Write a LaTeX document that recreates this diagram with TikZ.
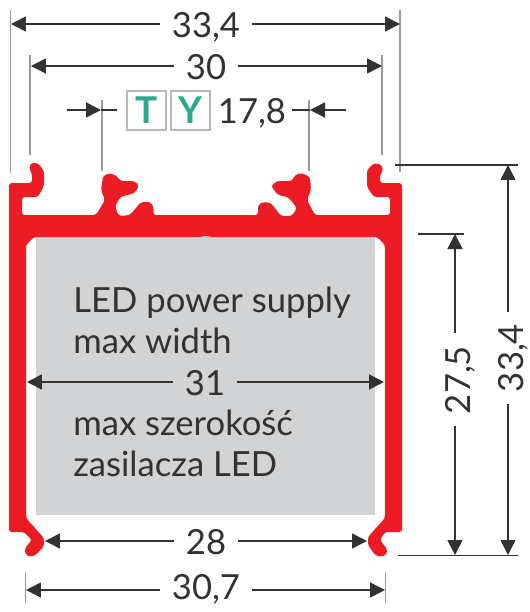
\documentclass[tikz,border=0pt]{standalone}
\usepackage{xcolor}
\usepackage{fontspec}
\setmainfont{Lato}
\usepackage{tikz}
\usetikzlibrary{arrows.meta}

\definecolor{profilered}{HTML}{ED1C24}
\definecolor{fillgrey}{HTML}{D1D3D4}
\definecolor{inkgrey}{HTML}{333132}
\definecolor{extgrey}{HTML}{9A9A9A}
\definecolor{tealmark}{HTML}{2BA98C}

\tikzset{
  dimline/.style={draw=inkgrey, line width=0.03cm, -{Triangle[length=0.3cm,width=0.3cm]}, shorten >=0pt},
  tickline/.style={draw=inkgrey, line width=0.03cm},
  extline/.style={draw=extgrey, line width=0.03cm},
  dimlabel/.style={text=inkgrey, font=\fontsize{19.7}{22}\selectfont, inner xsep=0.24cm, inner ysep=0cm, text height=0.5cm, text depth=0cm},
  notelabel/.style={text=inkgrey, font=\fontsize{19.7}{22}\selectfont, inner sep=0pt, anchor=base west},
  markbox/.style={draw=extgrey!70, fill=white, line width=0.03cm, text=tealmark, font=\fontsize{21}{23}\selectfont\bfseries, minimum size=0.78cm, inner sep=0pt}
}

\begin{document}
\begin{tikzpicture}[x=0.02cm, y=-0.02cm]
    \useasboundingbox (0, 0) rectangle (529, 612);

    % opening and profile
    \fill [fillgrey] (36, 237) rectangle (375, 515);
    \fill [profilered, rounded corners=1.6pt]
        (9, 183) -- (32, 183) -- (32, 174) -- (29, 168) -- (31, 163) -- (38, 163) -- (44, 171) -- (44, 186) -- (38, 197) -- (22, 197) -- (22, 215)
        -- (96, 215) -- (105, 200) -- (101, 190) -- (103, 176) -- (110, 173) -- (117, 176) -- (120, 181) -- (134, 181) -- (139, 185) -- (135, 193) -- (124, 196) -- (120, 197) -- (115, 207) -- (119, 216) -- (130, 215)
        -- (141, 202) -- (151, 202) -- (154, 209) -- (153, 215)
        -- (258, 215) -- (258, 205) -- (263, 202) -- (271, 203) -- (281, 216) -- (292, 216) -- (297, 208) -- (288, 197) -- (278, 195) -- (271, 186) -- (277, 181) -- (292, 181) -- (295, 175) -- (302, 173) -- (310, 177) -- (311, 190) -- (307, 200) -- (315, 215)
        -- (390, 215) -- (390, 197) -- (374, 197) -- (367, 187) -- (367, 170) -- (374, 163) -- (382, 165) -- (383, 171) -- (380, 175) -- (380, 183) -- (402, 183)
        -- (402, 532) -- (385, 532) -- (380, 540) -- (387, 549) -- (387, 554) -- (381, 557) -- (375, 555) -- (368, 545) -- (368, 537) -- (385, 518)
        -- (385, 245) -- (377, 237) -- (209, 237) -- (206, 235) -- (203, 237) -- (34, 237) -- (26, 245)
        -- (26, 518) -- (44, 538) -- (44, 546) -- (36, 555) -- (30, 557) -- (25, 554) -- (25, 548) -- (32, 540) -- (24, 532) -- (9, 532) -- cycle;

    % points of the dimension lines
    \coordinate (w334l) at (11, 24);
    \coordinate (w334r) at (400, 24);
    \coordinate (w30l) at (31, 66);
    \coordinate (w30r) at (382, 66);
    \coordinate (w178a) at (67, 110);
    \coordinate (w178b) at (101, 110);
    \coordinate (w178c) at (117, 110);
    \coordinate (w178d) at (292, 110);
    \coordinate (w178e) at (310, 110);
    \coordinate (w178f) at (346, 110);
    \coordinate (w31l) at (27, 382);
    \coordinate (w31r) at (384, 382);
    \coordinate (w28l) at (45, 541);
    \coordinate (w28r) at (367, 541);
    \coordinate (w307l) at (26, 590);
    \coordinate (w307r) at (385, 590);
    \coordinate (h334t) at (508, 165);
    \coordinate (h334b) at (508, 555);
    \coordinate (h334u) at (508, 312);
    \coordinate (h334d) at (508, 404);
    \coordinate (h275t) at (455, 234);
    \coordinate (h275b) at (455, 555);
    \coordinate (h275u) at (455, 333);
    \coordinate (h275d) at (455, 426);

    % extension lines
    \coordinate (ext1a) at (10.5, 10);
    \coordinate (ext1b) at (10.5, 173);
    \coordinate (ext2a) at (400, 10);
    \coordinate (ext2b) at (400, 172);
    \coordinate (ext3a) at (30, 55);
    \coordinate (ext3b) at (30, 155);
    \coordinate (ext4a) at (382, 55);
    \coordinate (ext4b) at (382, 155);
    \coordinate (ext5a) at (102, 100);
    \coordinate (ext5b) at (102, 171);
    \coordinate (ext6a) at (309, 100);
    \coordinate (ext6b) at (309, 171);
    \coordinate (ext7a) at (25.5, 572);
    \coordinate (ext7b) at (25.5, 603);
    \coordinate (ext8a) at (385.5, 572);
    \coordinate (ext8b) at (385.5, 603);
    \coordinate (tick1a) at (395, 165);
    \coordinate (tick1b) at (518, 165);
    \coordinate (tick2a) at (418, 234);
    \coordinate (tick2b) at (464, 234);
    \coordinate (tick3a) at (398, 555.5);
    \coordinate (tick3b) at (518, 555.5);
    \draw [extline] (ext1a) -- (ext1b);
    \draw [extline] (ext2a) -- (ext2b);
    \draw [extline] (ext3a) -- (ext3b);
    \draw [extline] (ext4a) -- (ext4b);
    \draw [extline] (ext5a) -- (ext5b);
    \draw [extline] (ext6a) -- (ext6b);
    \draw [extline] (ext7a) -- (ext7b);
    \draw [extline] (ext8a) -- (ext8b);
    \draw [tickline] (tick1a) -- (tick1b);
    \draw [tickline] (tick2a) -- (tick2b);
    \draw [tickline] (tick3a) -- (tick3b);

    % dimension labels
    \node (w334) at (206, 25) [dimlabel] {33,4};
    \node (w30) at (206, 67) [dimlabel] {30};
    \node (w178) at (252, 111) [dimlabel, inner xsep=0pt] {17,8};
    \node (w31) at (205, 383) [dimlabel] {31};
    \node (w28) at (206, 542) [dimlabel] {28};
    \node (w307) at (206, 587) [dimlabel] {30,7};
    \node (h334) at (511, 358) [dimlabel, rotate=90] {33,4};
    \node (h275) at (458, 380) [dimlabel, rotate=90] {27,5};
    \node (tbox) at (146.5, 110.5) [markbox] {T};
    \node (ybox) at (190.5, 110.5) [markbox] {Y};

    \draw [dimline] (w334.west |- w334l) -- (w334l);
    \draw [dimline] (w334.east |- w334r) -- (w334r);
    \draw [dimline] (w30.west |- w30l) -- (w30l);
    \draw [dimline] (w30.east |- w30r) -- (w30r);
    \draw [dimline] (w31.west |- w31l) -- (w31l);
    \draw [dimline] (w31.east |- w31r) -- (w31r);
    \draw [dimline] (w28.west |- w28l) -- (w28l);
    \draw [dimline] (w28.east |- w28r) -- (w28r);
    \draw [dimline] (w307.west |- w307l) -- (w307l);
    \draw [dimline] (w307.east |- w307r) -- (w307r);
    \draw [dimline] (w178a) -- (w178b);
    \draw [tickline] (w178b) -- (w178c);
    \draw [tickline] (w178d) -- (w178e);
    \draw [dimline] (w178f) -- (w178e);
    \draw [dimline] (h334u) -- (h334t);
    \draw [dimline] (h334d) -- (h334b);
    \draw [dimline] (h275u) -- (h275t);
    \draw [dimline] (h275d) -- (h275b);

    % notes inside the opening
    \node (note1) at (73, 312) [notelabel] {LED power supply};
    \node (note2) at (73, 353) [notelabel] {max width};
    \node (note3) at (73, 435) [notelabel] {max szerokość};
    \node (note4) at (73, 476) [notelabel] {zasilacza LED};
\end{tikzpicture}
\end{document}
